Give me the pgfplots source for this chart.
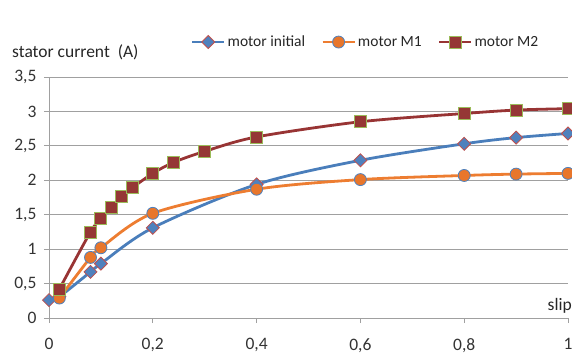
\documentclass[border=0pt]{standalone}
\usepackage{pgfplots}
\pgfplotsset{compat=1.18}
\usetikzlibrary{calc}
\usepackage{fontspec}
\setmainfont{Carlito}
\definecolor{cblue}{HTML}{4A7EBB}
\definecolor{cblueF}{HTML}{4F81BD}
\definecolor{cred}{HTML}{C0504D}
\definecolor{corange}{HTML}{ED7D31}
\definecolor{corangeF}{HTML}{E8762B}
\definecolor{cdark}{HTML}{983434}
\definecolor{cdarkF}{HTML}{953735}
\definecolor{cgreen}{HTML}{9BBB59}
\definecolor{cgrid}{HTML}{A0A0A0}
\begin{document}
\begin{tikzpicture}
\begin{axis}[
  name=ax,
  scale only axis,
  width=519bp, height=241bp,
  xmin=0, xmax=1, ymin=0, ymax=3.5,
  xtick={0,0.2,0.4,0.6,0.8,1},
  ytick={0,0.5,1,1.5,2,2.5,3,3.5},
  /pgf/number format/use comma,
  /pgf/number format/assume math mode=true,
  axis x line*=bottom, axis y line*=left,
  axis line style={cgrid, line width=0.8bp, -},
  tick align=outside,
  major tick length=5bp,
  tick style={cgrid, line width=0.8bp},
  ymajorgrids,
  grid style={cgrid, line width=0.8bp},
  ticklabel style={font=\fontsize{17.5bp}{20bp}\selectfont, text=black!80},
  xticklabel style={yshift=-12bp},
  yticklabel style={xshift=-4bp},
  xlabel={slip},
  xlabel style={at={(rel axis cs:1,0)}, anchor=base east, xshift=4bp, yshift=8bp, inner sep=0pt, font=\fontsize{17.5bp}{20bp}\selectfont, text=black!85},
  ylabel={stator current~~(A)},
  ylabel style={rotate=-90, at={(rel axis cs:0,1)}, anchor=base west, xshift=-37bp, yshift=19bp, inner sep=0pt, font=\fontsize{17.5bp}{20bp}\selectfont, text=black!85},
  clip=false,
  legend columns=3,
  legend style={draw=none, fill=none, at={(rel axis cs:0.61,1.145)}, anchor=center,
    font=\fontsize{15.5bp}{18bp}\selectfont, text=black!85,
    /tikz/every even column/.append style={column sep=14bp}},
  legend image code/.code={\draw[mark repeat=2,mark phase=2] plot coordinates {(0bp,0bp)(16bp,0bp)(32bp,0bp)};},
  every axis plot/.append style={line width=2.8bp, smooth, tension=0.5},
]
\addplot[cblue, mark=square*, mark size=4.6bp, mark options={rotate=45, fill=cblueF, draw=cred, line width=0.8bp}] coordinates {
(0,0.26) (0.02,0.31) (0.08,0.67) (0.1,0.79) (0.2,1.31) (0.4,1.94) (0.6,2.29) (0.8,2.53) (0.9,2.62) (1,2.68)};
\addlegendentry{motor initial}
\addplot[corange, mark=*, mark size=6bp, mark options={fill=corangeF, draw=cblueF, line width=0.8bp}] coordinates {
(0.02,0.29) (0.08,0.88) (0.1,1.02) (0.2,1.52) (0.4,1.87) (0.6,2.01) (0.8,2.07) (0.9,2.09) (1,2.10)};
\addlegendentry{motor M1}
\addplot[cdark, mark=square*, mark size=6bp, mark options={fill=cdarkF, draw=cgreen, line width=0.8bp}] coordinates {
(0.02,0.42) (0.08,1.25) (0.1,1.44) (0.12,1.61) (0.14,1.77) (0.16,1.89) (0.2,2.10) (0.24,2.26) (0.3,2.42) (0.4,2.63) (0.6,2.85) (0.8,2.97) (0.9,3.02) (1,3.04)};
\addlegendentry{motor M2}
\end{axis}
\pgfresetboundingbox
\path[use as bounding box] ($(ax.south west)+(-49bp,-38bp)$) rectangle ($(ax.north east)+(4bp,77bp)$);
\end{tikzpicture}
\end{document}
